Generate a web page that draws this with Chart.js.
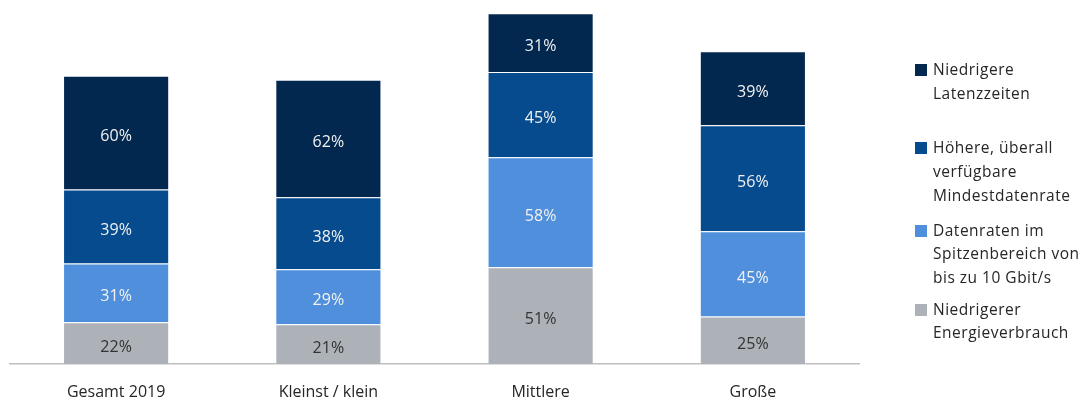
<!DOCTYPE html>
<html>
<head>
<meta charset="utf-8">
<script src="https://cdn.jsdelivr.net/npm/chart.js@4/dist/chart.umd.min.js"></script>
<style>
  html, body { margin: 0; padding: 0; background: #fff; }
  #wrap { position: relative; width: 1086px; height: 400px; }
  #legend { position: absolute; left: 915px; top: 58px; font-family: "Open Sans", sans-serif; font-size: 15.5px; color: #262626; letter-spacing: 0.5px; }
  .item { position: relative; padding-left: 18px; line-height: 23.7px; }
  .sw { position: absolute; left: 0; top: 6px; width: 12px; height: 12px; }
</style>
</head>
<body>
<div id="wrap">
  <canvas id="c" width="1086" height="400"></canvas>
  <div id="legend"></div>
</div>
<script>
const categories = ["Gesamt 2019", "Kleinst / klein", "Mittlere", "Große"];
const energie = [22, 21, 51, 25];
const spitzenrate = [31, 29, 58, 45];
const mindestrate = [39, 38, 45, 56];
const latenz = [60, 62, 31, 39];
const seriesNames = [
  ["Niedrigerer", "Energieverbrauch"],
  ["Datenraten im", "Spitzenbereich von", "bis zu 10 Gbit/s"],
  ["Höhere, überall", "verfügbare", "Mindestdatenrate"],
  ["Niedrigere", "Latenzzeiten"]
];
const colors = ["#adb2b8", "#4f8fdb", "#074b8f", "#03284f"];
const labelColors = ["#333333", "#f2f2f2", "#f2f2f2", "#f2f2f2"];

const valueLabels = {
  id: "valueLabels",
  afterDatasetsDraw(chart) {
    const ctx = chart.ctx;
    ctx.save();
    ctx.font = "16px 'Open Sans', sans-serif";
    ctx.textAlign = "center";
    ctx.textBaseline = "middle";
    chart.data.datasets.forEach((ds, i) => {
      chart.getDatasetMeta(i).data.forEach((bar, j) => {
        const mid = (bar.y + bar.base) / 2;
        ctx.fillStyle = labelColors[i];
        ctx.fillText(ds.data[j] + "%", bar.x, mid + 4);
      });
    });
    ctx.restore();
  }
};

const chart = new Chart(document.getElementById("c"), {
  type: "bar",
  data: {
    labels: categories,
    datasets: [energie, spitzenrate, mindestrate, latenz].map((d, i) => ({
      label: seriesNames[i].join(" "),
      data: d,
      backgroundColor: colors[i],
      borderColor: "rgba(255,255,255,0.12)",
      borderWidth: 1,
      barPercentage: 0.5,
      categoryPercentage: 1.0
    }))
  },
  options: {
    responsive: false,
    animation: false,
    layout: { padding: { left: 10, right: 227, top: 0, bottom: 0 } },
    plugins: { legend: { display: false }, tooltip: { enabled: false } },
    scales: {
      x: {
        stacked: true,
        grid: { display: false, drawTicks: false },
        border: { display: true, color: "#bfbfbf", width: 1.5 },
        ticks: { color: "#262626", padding: 19, maxRotation: 0, font: { family: "'Open Sans', sans-serif", size: 16 } },
        afterFit(scale) { scale.height = 36; }
      },
      y: {
        stacked: true,
        display: false,
        min: 0,
        max: 192
      }
    }
  },
  plugins: [valueLabels]
});

// Legend listing the series from top of stack to bottom
const legend = document.getElementById("legend");
const gaps = [0, 31, 11, 8];
chart.data.datasets.slice().reverse().forEach((ds, k) => {
  const idx = chart.data.datasets.length - 1 - k;
  const item = document.createElement("div");
  item.className = "item";
  item.style.marginTop = gaps[k] + "px";
  const sw = document.createElement("span");
  sw.className = "sw";
  sw.style.background = ds.backgroundColor;
  item.appendChild(sw);
  seriesNames[idx].forEach(line => {
    const d = document.createElement("div");
    d.textContent = line;
    item.appendChild(d);
  });
  legend.appendChild(item);
});
</script>
</body>
</html>
